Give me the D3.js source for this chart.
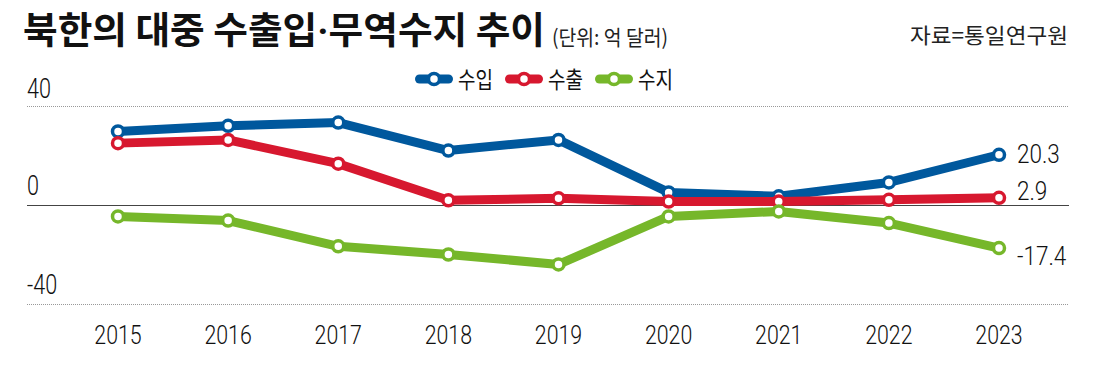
<!DOCTYPE html>
<html><head><meta charset="utf-8">
<script src="https://cdn.jsdelivr.net/npm/d3@7"></script>
<style>
html,body{margin:0;padding:0;background:#fff;}
svg{display:block;}
</style></head>
<body>
<script>
// ---- data ----
const years = ["2015","2016","2017","2018","2019","2020","2021","2022","2023"];
const imports = [29.7, 32.0, 33.3, 22.0, 26.3, 5.1, 3.5, 9.1, 20.3];
const exportsV = [25.0, 26.3, 16.7, 1.9, 2.7, 1.4, 1.4, 2.1, 2.9];
const balance = [-4.6, -6.3, -16.7, -20.0, -24.0, -4.6, -2.6, -7.3, -17.4];
const yTicks = [40, 0, -40];
const seriesNames = ["수입", "수출", "수지"];
const endLabels = ["20.3", "2.9", "-17.4"];
const titleParts = ["북한의 대중 수출입", "·", "무역수지 추이"];
const unitText = "(단위: 억 달러)";
const sourceText = "자료=통일연구원";

// ---- layout ----
const W = 1100, H = 367;
const colors = ["#00589d", "#d7182f", "#76b72a"];
const series = [imports, exportsV, balance];
const labelDy = [8, 2, 17];

const svg = d3.select("body").append("svg").attr("width", W).attr("height", H);

const x = d3.scalePoint().domain(years).range([118, 999]);
const y = d3.scaleLinear().domain([-40, 40]).range([304, 106]);

function condense(sel, k) {
  sel.each(function () {
    const w = this.getComputedTextLength();
    d3.select(this).attr("textLength", w * k).attr("lengthAdjust", "spacingAndGlyphs");
  });
  return sel;
}
function fitWidth(sel, w) {
  return sel.attr("textLength", w).attr("lengthAdjust", "spacingAndGlyphs");
}

// title
const title = svg.append("text").attr("x", 23).attr("y", 44)
  .attr("font-family", "'Noto Sans CJK KR'").attr("font-weight", 700)
  .attr("font-size", 37).attr("fill", "#111");
titleParts.forEach((p, i) => {
  const ts = title.append("tspan").text(p);
  if (i === 1) ts.attr("font-family", "Roboto");
});
fitWidth(title, 522);
fitWidth(svg.append("text").attr("x", 552).attr("y", 45)
  .attr("font-family", "'Noto Sans CJK KR'").attr("font-size", 21)
  .attr("fill", "#222").text(unitText), 116);
fitWidth(svg.append("text").attr("x", 910).attr("y", 43)
  .attr("font-family", "'Noto Sans CJK KR'").attr("font-size", 21)
  .attr("fill", "#222").text(sourceText), 158);

// grid + y axis labels
const yAxis = svg.append("g");
yTicks.forEach(t => {
  yAxis.append("line").attr("x1", 27).attr("x2", 1069)
    .attr("y1", Math.round(y(t)) + 0.5).attr("y2", Math.round(y(t)) + 0.5)
    .attr("stroke", t === 0 ? "#444" : "#999")
    .attr("stroke-width", 1)
    .attr("stroke-dasharray", t === 0 ? null : "1,1");
  condense(yAxis.append("text").attr("x", 27).attr("y", y(t) - (t === 40 ? 8 : 10))
    .attr("font-family", "Roboto").attr("font-weight", 300).attr("font-size", 27).attr("fill", "#111")
    .text(String(t)), 0.8);
});

// x axis labels
const xAxis = svg.append("g");
years.forEach(yr => {
  condense(xAxis.append("text").attr("x", x(yr)).attr("y", 344)
    .attr("text-anchor", "middle").attr("font-family", "Roboto").attr("font-weight", 300)
    .attr("font-size", 26).attr("fill", "#111").text(yr), 0.82);
});

// lines
const line = d3.line().x((d, i) => x(years[i])).y(d => y(d));
series.forEach((vals, s) => {
  const g = svg.append("g");
  g.append("path").datum(vals).attr("d", line).attr("fill", "none")
    .attr("stroke", colors[s]).attr("stroke-width", 9)
    .attr("stroke-linejoin", "round").attr("stroke-linecap", "round");
  g.selectAll("circle").data(vals).join("circle")
    .attr("cx", (d, i) => x(years[i])).attr("cy", d => y(d))
    .attr("r", 5.5).attr("fill", "#fff")
    .attr("stroke", colors[s]).attr("stroke-width", 3.5);
  const last = vals.length - 1;
  condense(g.append("text").attr("x", 1017).attr("y", y(vals[last]) + labelDy[s])
    .attr("font-family", "Roboto").attr("font-weight", 300).attr("font-size", 25).attr("fill", "#111")
    .text(endLabels[s]), 0.9);
});

// legend
const lg = svg.append("g");
seriesNames.forEach((n, i) => {
  const x0 = 415 + i * 90, cy = 79;
  lg.append("line").attr("x1", x0 + 4.5).attr("x2", x0 + 33.5).attr("y1", cy).attr("y2", cy)
    .attr("stroke", colors[i]).attr("stroke-width", 9).attr("stroke-linecap", "round");
  lg.append("circle").attr("cx", x0 + 19).attr("cy", cy).attr("r", 5.5)
    .attr("fill", "#fff").attr("stroke", colors[i]).attr("stroke-width", 3.5);
  fitWidth(lg.append("text").attr("x", x0 + 43).attr("y", cy + 9)
    .attr("font-family", "'Noto Sans CJK KR'").attr("font-size", 23)
    .attr("fill", "#111").text(n), 35);
});
</script>
</body></html>
